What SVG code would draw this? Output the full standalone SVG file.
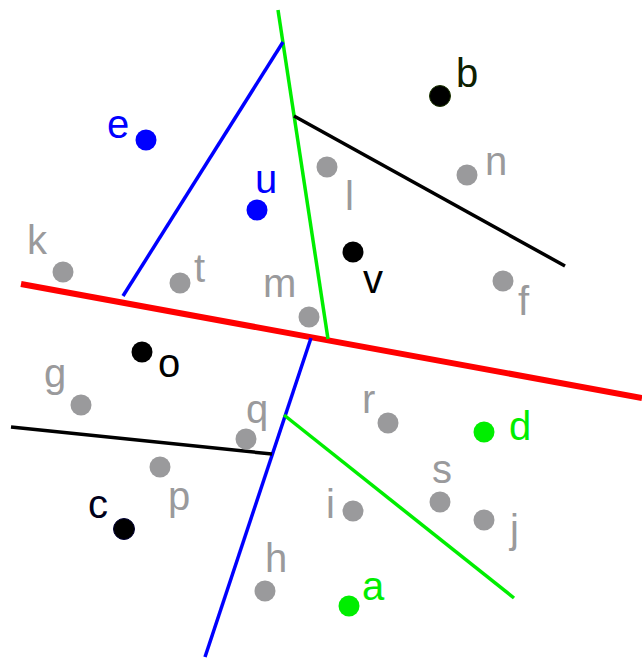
<svg xmlns="http://www.w3.org/2000/svg" width="642" height="661" viewBox="0 0 642 661">
<style>
text{font-family:"Liberation Sans",Arial,sans-serif;font-size:40px}
.g{fill:#9a9a9c}
.gl{fill:#9a9a9c}
.ln{fill:none;stroke-linecap:butt}
</style>
<rect width="642" height="661" fill="#fff"/>
<g id="connectors">
<line class="ln" x1="21" y1="284" x2="642" y2="398" stroke="#ff0000" stroke-width="6"/>
<line class="ln" x1="278" y1="10" x2="328" y2="339" stroke="#00ee00" stroke-width="3.5"/>
<line class="ln" x1="283" y1="42" x2="123" y2="296" stroke="#0000ff" stroke-width="3.5"/>
<line class="ln" x1="294" y1="116" x2="565" y2="266" stroke="#000" stroke-width="3.5"/>
<line class="ln" x1="311" y1="338" x2="205" y2="657" stroke="#0000ff" stroke-width="3.5"/>
<line class="ln" x1="11" y1="427" x2="272" y2="454" stroke="#000" stroke-width="3.5"/>
<line class="ln" x1="284" y1="415" x2="514" y2="598" stroke="#00ee00" stroke-width="3.5"/>
</g>
<g id="e"><circle cx="146" cy="140" r="10.5" fill="#0000ff"/><text x="107" y="138" fill="#0000ff">e</text></g>
<g id="u"><circle cx="257" cy="210" r="10.5" fill="#0000ff"/><text x="255" y="193" fill="#0000ff">u</text></g>
<g id="b"><circle cx="440" cy="96" r="10.5" fill="#000" stroke="#1a3300" stroke-width="1"/><text x="456" y="87" fill="#0d2000">b</text></g>
<g id="k"><circle cx="63" cy="272" r="10.5" class="g"/><text x="27" y="254" class="gl">k</text></g>
<g id="t"><circle cx="180" cy="283" r="10.5" class="g"/><text x="194" y="282" class="gl">t</text></g>
<g id="m"><circle cx="309" cy="317" r="10.5" class="g"/><text x="263" y="297" class="gl">m</text></g>
<g id="l"><circle cx="327" cy="167" r="10.5" class="g"/><text x="345" y="210" class="gl">l</text></g>
<g id="n"><circle cx="467" cy="175" r="10.5" class="g"/><text x="485" y="175" class="gl">n</text></g>
<g id="v"><circle cx="353" cy="252" r="10.5" fill="#000"/><text x="363" y="293" fill="#000">v</text></g>
<g id="f"><circle cx="503" cy="281" r="10.5" class="g"/><text x="518" y="315" class="gl">f</text></g>
<g id="o"><circle cx="142" cy="352" r="10.5" fill="#000"/><text x="158" y="377" fill="#000">o</text></g>
<g id="g"><circle cx="81" cy="405" r="10.5" class="g"/><text x="44" y="387" class="gl">g</text></g>
<g id="q"><circle cx="246" cy="439" r="10.5" class="g"/><text x="246" y="423" class="gl">q</text></g>
<g id="p"><circle cx="160" cy="467" r="10.5" class="g"/><text x="168" y="510" class="gl">p</text></g>
<g id="c"><circle cx="124" cy="529" r="10.5" fill="#000" stroke="#000033" stroke-width="1"/><text x="88" y="518" fill="#00001a">c</text></g>
<g id="h"><circle cx="265" cy="591" r="10.5" class="g"/><text x="265" y="572" class="gl">h</text></g>
<g id="r"><circle cx="388" cy="423" r="10.5" class="g"/><text x="362" y="413" class="gl">r</text></g>
<g id="d"><circle cx="484" cy="432" r="10.5" fill="#00ee00"/><text x="509" y="440" fill="#00ee00">d</text></g>
<g id="s"><circle cx="440" cy="502" r="10.5" class="g"/><text x="432" y="483" class="gl">s</text></g>
<g id="i"><circle cx="353" cy="511" r="10.5" class="g"/><text x="326" y="518" class="gl">i</text></g>
<g id="j"><circle cx="484" cy="520" r="10.5" class="g"/><text x="510" y="543" class="gl">j</text></g>
<g id="a"><circle cx="349" cy="606" r="10.5" fill="#00ee00"/><text x="362" y="600" fill="#00ee00">a</text></g>
</svg>
